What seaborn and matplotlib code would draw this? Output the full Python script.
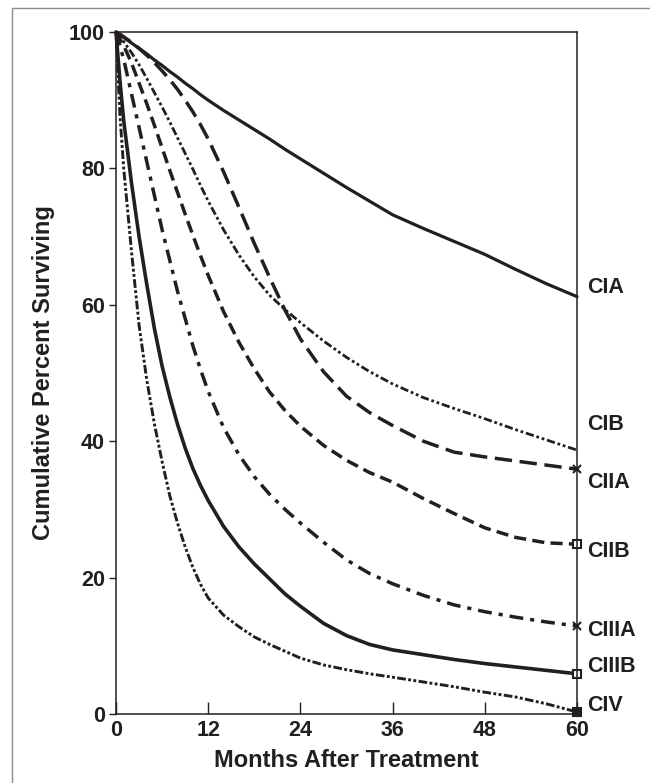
import matplotlib
matplotlib.use('Agg')
import matplotlib.pyplot as plt
import seaborn as sns
from matplotlib.lines import Line2D

# Survival curves (percent surviving by month)
months = [0, 0.5, 1, 2, 3, 4, 5, 6, 7, 8, 9, 10, 11, 12, 14, 16, 18, 20, 22, 24,
          27, 30, 33, 36, 40, 44, 48, 52, 56, 60]
cia = [100, 99.6, 99.2, 98.4, 97.6, 96.8, 95.9, 95.1, 94.2, 93.4, 92.5, 91.7, 90.8, 90.0,
       88.5, 87.1, 85.7, 84.3, 82.8, 81.4, 79.3, 77.2, 75.2, 73.2, 71.2, 69.3, 67.4, 65.2, 63.1, 61.2]
cib = [100, 99.3, 98.6, 97, 95.2, 93.2, 91.1, 89, 86.8, 84.5, 82.2, 79.9, 77.5, 75.2,
       71, 67.3, 64.1, 61.4, 59.3, 57.4, 54.7, 52.3, 50.2, 48.4, 46.4, 44.8, 43.3, 41.7, 40.2, 38.7]
ciia = [100, 99.7, 99.3, 98.5, 97.6, 96.6, 95.5, 94.3, 93, 91.6, 90, 88.3, 86.4, 84.3,
        79.5, 74.3, 69, 64, 59.2, 55, 50.2, 46.6, 44.2, 42.3, 40, 38.4, 37.7, 37.1, 36.5, 35.9]
ciib = [100, 99, 98, 95.5, 92.5, 89.5, 86.3, 83, 79.7, 76.5, 73.3, 70.2, 67.2, 64.3,
        59, 54.5, 50.6, 47.2, 44.5, 42.2, 39.4, 37.2, 35.4, 34, 31.6, 29.4, 27.3, 25.9, 25.1, 24.9]
ciiia = [100, 98, 96, 91, 86, 81, 76, 71, 66.5, 62, 58, 54, 50.5, 47.3,
         42, 38, 34.8, 32.2, 30, 28, 25.2, 22.6, 20.6, 19.1, 17.4, 16, 15, 14.2, 13.5, 12.9]
ciiib = [100, 93, 87, 78, 70, 63, 56.5, 51, 46.5, 42.5, 39, 36, 33.5, 31.3,
         27.5, 24.5, 22, 19.8, 17.6, 15.8, 13.3, 11.5, 10.2, 9.4, 8.7, 8.0, 7.4, 6.9, 6.4, 5.9]
civ = [100, 88, 80, 68, 57, 49, 42.5, 37, 32, 28, 24.5, 21.5, 19, 17,
       14.5, 12.8, 11.3, 10.2, 9.2, 8.2, 7.2, 6.5, 5.9, 5.4, 4.7, 4.0, 3.2, 2.5, 1.5, 0.3]

stage_names = ['CIA', 'CIB', 'CIIA', 'CIIB', 'CIIIA', 'CIIIB', 'CIV']
label_y = [62.5, 42.4, 33.9, 23.8, 12.3, 7.0, 1.3]

sns.set_style('ticks')
plt.rcParams['font.family'] = ['Liberation Sans', 'DejaVu Sans']
plt.rcParams['font.weight'] = 'bold'

ink = '#231f20'

fig = plt.figure(figsize=(6.5, 7.83), dpi=100)
ax = fig.add_axes([0.1785, 0.0881, 0.7092, 0.8710])

# style per curve: linestyle, width, end marker, marker fill
styles = [
    ('-', 2.3, None, 'none'),
    ((0, (3, 1, 1, 1, 1, 1)), 2.0, None, 'none'),
    ((0, (5, 2.2)), 2.5, 'x', 'none'),
    ((0, (3.5, 1.8)), 2.5, 's', 'white'),
    ((0, (4, 2, 1.2, 2)), 2.5, 'x', 'none'),
    ('-', 2.6, 's', 'white'),
    ((0, (1, 0.8, 1, 0.8, 3, 0.8)), 2.1, 's', ink),
]
series = [cia, cib, ciia, ciib, ciiia, ciiib, civ]

for vals, (ls, lw, mk, mfc) in zip(series, styles):
    kw = {}
    if mk is not None:
        kw = dict(marker=mk, markevery=[len(vals) - 1], markersize=6,
                  markerfacecolor=mfc, markeredgecolor=ink, markeredgewidth=1.5)
    sns.lineplot(x=months, y=vals, ax=ax, color=ink, linestyle=ls, linewidth=lw,
                 clip_on=False, **kw)

for name, yv in zip(stage_names, label_y):
    ax.text(61.3, yv, name, fontsize=15.5, fontweight='bold', color=ink,
            va='center', ha='left', clip_on=False)

ax.set_xlim(0, 60)
ax.set_ylim(0, 100)
ax.set_xticks([0, 12, 24, 36, 48, 60])
ax.set_yticks([0, 20, 40, 60, 80, 100])
ax.tick_params(axis='x', direction='in', length=9, width=1, labelsize=15.5, colors=ink, pad=4)
ax.tick_params(axis='y', direction='out', length=5, width=1, labelsize=15.5, colors=ink, pad=3)
for lab in ax.get_xticklabels() + ax.get_yticklabels():
    lab.set_fontweight('bold')
for sp in ax.spines.values():
    sp.set_visible(True)
    sp.set_linewidth(1.1)
    sp.set_color(ink)

ax.set_xlabel('Months After Treatment', fontsize=17, fontweight='bold', color=ink, labelpad=6)
ax.set_ylabel('Cumulative Percent Surviving', fontsize=17, fontweight='bold', color=ink, labelpad=10)

# grey frame of the scanned page (top and left edges)
fig.add_artist(Line2D([0.0185, 1.0], [0.9898, 0.9898], transform=fig.transFigure, color='#8c8c8c', lw=1))
fig.add_artist(Line2D([0.0185, 0.0185], [0.0, 0.9898], transform=fig.transFigure, color='#8c8c8c', lw=1))

fig.savefig('out.png', dpi=100)
